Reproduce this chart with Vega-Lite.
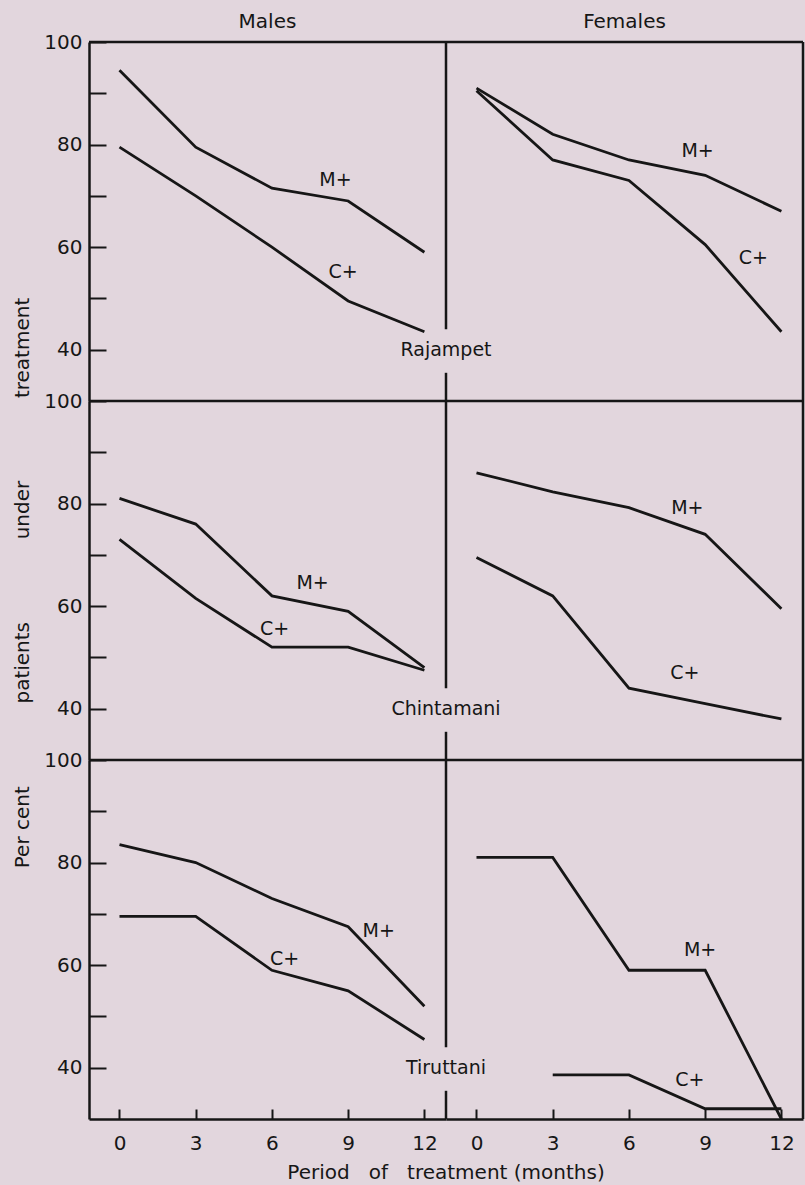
{
  "$schema": "https://vega.github.io/schema/vega-lite/v6.json",
  "background": "#e2d6dd",
  "padding": {"left": 12, "top": 12, "right": 0, "bottom": 4},
  "bounds": "flush",
  "data": {
    "values": [
      {"kind": "line", "site": "Rajampet", "sex": "Males", "series": "M+", "month": 0, "value": 94.5},
      {"kind": "line", "site": "Rajampet", "sex": "Males", "series": "M+", "month": 3, "value": 79.5},
      {"kind": "line", "site": "Rajampet", "sex": "Males", "series": "M+", "month": 6, "value": 71.5},
      {"kind": "line", "site": "Rajampet", "sex": "Males", "series": "M+", "month": 9, "value": 69},
      {"kind": "line", "site": "Rajampet", "sex": "Males", "series": "M+", "month": 12, "value": 59},
      {"kind": "line", "site": "Rajampet", "sex": "Males", "series": "C+", "month": 0, "value": 79.5},
      {"kind": "line", "site": "Rajampet", "sex": "Males", "series": "C+", "month": 3, "value": 70},
      {"kind": "line", "site": "Rajampet", "sex": "Males", "series": "C+", "month": 6, "value": 60},
      {"kind": "line", "site": "Rajampet", "sex": "Males", "series": "C+", "month": 9, "value": 49.5},
      {"kind": "line", "site": "Rajampet", "sex": "Males", "series": "C+", "month": 12, "value": 43.5},
      {"kind": "line", "site": "Rajampet", "sex": "Females", "series": "M+", "month": 0, "value": 91},
      {"kind": "line", "site": "Rajampet", "sex": "Females", "series": "M+", "month": 3, "value": 82},
      {"kind": "line", "site": "Rajampet", "sex": "Females", "series": "M+", "month": 6, "value": 77},
      {"kind": "line", "site": "Rajampet", "sex": "Females", "series": "M+", "month": 9, "value": 74},
      {"kind": "line", "site": "Rajampet", "sex": "Females", "series": "M+", "month": 12, "value": 67},
      {"kind": "line", "site": "Rajampet", "sex": "Females", "series": "C+", "month": 0, "value": 90.5},
      {"kind": "line", "site": "Rajampet", "sex": "Females", "series": "C+", "month": 3, "value": 77},
      {"kind": "line", "site": "Rajampet", "sex": "Females", "series": "C+", "month": 6, "value": 73},
      {"kind": "line", "site": "Rajampet", "sex": "Females", "series": "C+", "month": 9, "value": 60.5},
      {"kind": "line", "site": "Rajampet", "sex": "Females", "series": "C+", "month": 12, "value": 43.5},

      {"kind": "line", "site": "Chintamani", "sex": "Males", "series": "M+", "month": 0, "value": 81},
      {"kind": "line", "site": "Chintamani", "sex": "Males", "series": "M+", "month": 3, "value": 76},
      {"kind": "line", "site": "Chintamani", "sex": "Males", "series": "M+", "month": 6, "value": 62},
      {"kind": "line", "site": "Chintamani", "sex": "Males", "series": "M+", "month": 9, "value": 59},
      {"kind": "line", "site": "Chintamani", "sex": "Males", "series": "M+", "month": 12, "value": 48},
      {"kind": "line", "site": "Chintamani", "sex": "Males", "series": "C+", "month": 0, "value": 73},
      {"kind": "line", "site": "Chintamani", "sex": "Males", "series": "C+", "month": 3, "value": 61.5},
      {"kind": "line", "site": "Chintamani", "sex": "Males", "series": "C+", "month": 6, "value": 52},
      {"kind": "line", "site": "Chintamani", "sex": "Males", "series": "C+", "month": 9, "value": 52},
      {"kind": "line", "site": "Chintamani", "sex": "Males", "series": "C+", "month": 12, "value": 47.5},
      {"kind": "line", "site": "Chintamani", "sex": "Females", "series": "M+", "month": 0, "value": 86},
      {"kind": "line", "site": "Chintamani", "sex": "Females", "series": "M+", "month": 3, "value": 82.3},
      {"kind": "line", "site": "Chintamani", "sex": "Females", "series": "M+", "month": 6, "value": 79.2},
      {"kind": "line", "site": "Chintamani", "sex": "Females", "series": "M+", "month": 9, "value": 74},
      {"kind": "line", "site": "Chintamani", "sex": "Females", "series": "M+", "month": 12, "value": 59.5},
      {"kind": "line", "site": "Chintamani", "sex": "Females", "series": "C+", "month": 0, "value": 69.5},
      {"kind": "line", "site": "Chintamani", "sex": "Females", "series": "C+", "month": 3, "value": 62},
      {"kind": "line", "site": "Chintamani", "sex": "Females", "series": "C+", "month": 6, "value": 44},
      {"kind": "line", "site": "Chintamani", "sex": "Females", "series": "C+", "month": 9, "value": 41},
      {"kind": "line", "site": "Chintamani", "sex": "Females", "series": "C+", "month": 12, "value": 38},

      {"kind": "line", "site": "Tiruttani", "sex": "Males", "series": "M+", "month": 0, "value": 83.5},
      {"kind": "line", "site": "Tiruttani", "sex": "Males", "series": "M+", "month": 3, "value": 80},
      {"kind": "line", "site": "Tiruttani", "sex": "Males", "series": "M+", "month": 6, "value": 73},
      {"kind": "line", "site": "Tiruttani", "sex": "Males", "series": "M+", "month": 9, "value": 67.5},
      {"kind": "line", "site": "Tiruttani", "sex": "Males", "series": "M+", "month": 12, "value": 52},
      {"kind": "line", "site": "Tiruttani", "sex": "Males", "series": "C+", "month": 0, "value": 69.5},
      {"kind": "line", "site": "Tiruttani", "sex": "Males", "series": "C+", "month": 3, "value": 69.5},
      {"kind": "line", "site": "Tiruttani", "sex": "Males", "series": "C+", "month": 6, "value": 59},
      {"kind": "line", "site": "Tiruttani", "sex": "Males", "series": "C+", "month": 9, "value": 55},
      {"kind": "line", "site": "Tiruttani", "sex": "Males", "series": "C+", "month": 12, "value": 45.5},
      {"kind": "line", "site": "Tiruttani", "sex": "Females", "series": "M+", "month": 0, "value": 81},
      {"kind": "line", "site": "Tiruttani", "sex": "Females", "series": "M+", "month": 3, "value": 81},
      {"kind": "line", "site": "Tiruttani", "sex": "Females", "series": "M+", "month": 6, "value": 59},
      {"kind": "line", "site": "Tiruttani", "sex": "Females", "series": "M+", "month": 9, "value": 59},
      {"kind": "line", "site": "Tiruttani", "sex": "Females", "series": "M+", "month": 12, "value": 30},
      {"kind": "line", "site": "Tiruttani", "sex": "Females", "series": "C+", "month": 3, "value": 38.6},
      {"kind": "line", "site": "Tiruttani", "sex": "Females", "series": "C+", "month": 6, "value": 38.6},
      {"kind": "line", "site": "Tiruttani", "sex": "Females", "series": "C+", "month": 9, "value": 32},
      {"kind": "line", "site": "Tiruttani", "sex": "Females", "series": "C+", "month": 12, "value": 32},

      {"kind": "label", "site": "Rajampet", "sex": "Males", "series": "M+", "month": 8.5, "value": 73},
      {"kind": "label", "site": "Rajampet", "sex": "Males", "series": "C+", "month": 8.8, "value": 55.2},
      {"kind": "label", "site": "Rajampet", "sex": "Females", "series": "M+", "month": 8.7, "value": 78.8},
      {"kind": "label", "site": "Rajampet", "sex": "Females", "series": "C+", "month": 10.9, "value": 57.9},
      {"kind": "label", "site": "Chintamani", "sex": "Males", "series": "M+", "month": 7.6, "value": 64.5},
      {"kind": "label", "site": "Chintamani", "sex": "Males", "series": "C+", "month": 6.1, "value": 55.5},
      {"kind": "label", "site": "Chintamani", "sex": "Females", "series": "M+", "month": 8.3, "value": 79.2},
      {"kind": "label", "site": "Chintamani", "sex": "Females", "series": "C+", "month": 8.2, "value": 46.9},
      {"kind": "label", "site": "Tiruttani", "sex": "Males", "series": "M+", "month": 10.2, "value": 66.6},
      {"kind": "label", "site": "Tiruttani", "sex": "Males", "series": "C+", "month": 6.5, "value": 61.2},
      {"kind": "label", "site": "Tiruttani", "sex": "Females", "series": "M+", "month": 8.8, "value": 63},
      {"kind": "label", "site": "Tiruttani", "sex": "Females", "series": "C+", "month": 8.4, "value": 37.6}
    ]
  },
  "facet": {
    "row": {
      "field": "site",
      "type": "nominal",
      "sort": ["Rajampet", "Chintamani", "Tiruttani"],
      "header": {
        "title": "Per cent\u00a0\u00a0\u00a0\u00a0\u00a0\u00a0\u00a0\u00a0\u00a0\u00a0\u00a0\u00a0\u00a0patients\u00a0\u00a0\u00a0\u00a0\u00a0\u00a0\u00a0\u00a0\u00a0\u00a0\u00a0\u00a0\u00a0under\u00a0\u00a0\u00a0\u00a0\u00a0\u00a0\u00a0\u00a0\u00a0\u00a0\u00a0\u00a0\u00a0treatment",
        "titleOrient": "left",
        "labels": false,
        "titleFont": "DejaVu Sans",
        "titleFontSize": 20,
        "titleFontWeight": "normal",
        "titleColor": "#161616",
        "titlePadding": 0
      }
    },
    "column": {
      "field": "sex",
      "type": "nominal",
      "sort": ["Males", "Females"],
      "header": {
        "title": "Period\u00a0\u00a0\u00a0of\u00a0\u00a0\u00a0treatment (months)",
        "titleOrient": "bottom",
        "labelOrient": "top",
        "labelFont": "DejaVu Sans",
        "labelFontSize": 20,
        "labelColor": "#161616",
        "labelPadding": 10,
        "titleFont": "DejaVu Sans",
        "titleFontSize": 20,
        "titleFontWeight": "normal",
        "titleColor": "#161616",
        "titlePadding": 0
      }
    }
  },
  "spacing": {"row": 0, "column": 0},
  "spec": {
    "width": 357,
    "height": 359,
    "layer": [
      {
        "transform": [{"filter": "datum.kind === 'line'"}],
        "mark": {"type": "line", "color": "#161616", "strokeWidth": 2.8},
        "encoding": {
          "x": {
            "field": "month",
            "type": "quantitative",
            "scale": {"domain": [-1.2, 12.85], "nice": false, "zero": false},
            "axis": {"values": [0, 3, 6, 9, 12], "title": null}
          },
          "y": {
            "field": "value",
            "type": "quantitative",
            "scale": {"domain": [30, 100], "nice": false, "zero": false},
            "axis": {
              "values": [40, 50, 60, 70, 80, 90, 100],
              "labelExpr": "datum.value % 20 === 0 ? datum.label : ''",
              "title": null
            }
          },
          "detail": {"field": "series"}
        }
      },
      {
        "transform": [{"filter": "datum.kind === 'label'"}],
        "mark": {"type": "text", "font": "DejaVu Sans", "fontSize": 19, "color": "#161616", "align": "center", "baseline": "middle"},
        "encoding": {
          "x": {"field": "month", "type": "quantitative"},
          "y": {"field": "value", "type": "quantitative"},
          "text": {"field": "series"}
        }
      },
      {
        "transform": [{"filter": "datum.kind === 'line' && datum.month === 0 && datum.series === 'M+' && datum.sex === 'Males'"}],
        "mark": {"type": "text", "font": "DejaVu Sans", "fontSize": 19, "color": "#161616", "align": "center", "baseline": "middle"},
        "encoding": {"x": {"datum": 12.85}, "y": {"datum": 40}, "text": {"field": "site"}}
      },
      {
        "transform": [{"filter": "datum.kind === 'line' && datum.month === 0 && datum.series === 'M+'"}],
        "mark": {"type": "rule", "color": "#161616", "strokeWidth": 2.5},
        "encoding": {"y": {"datum": 100}}
      },
      {
        "transform": [{"filter": "datum.kind === 'line' && datum.month === 0 && datum.series === 'M+' && datum.sex === 'Males'"}],
        "mark": {"type": "rule", "color": "#161616", "strokeWidth": 2.5},
        "encoding": {"x": {"datum": 12.85}, "y": {"datum": 100}, "y2": {"datum": 44}}
      },
      {
        "transform": [{"filter": "datum.kind === 'line' && datum.month === 0 && datum.series === 'M+' && datum.sex === 'Males'"}],
        "mark": {"type": "rule", "color": "#161616", "strokeWidth": 2.5},
        "encoding": {"x": {"datum": 12.85}, "y": {"datum": 35.5}, "y2": {"datum": 30}}
      },
      {
        "transform": [{"filter": "datum.kind === 'line' && datum.month === 0 && datum.series === 'M+' && datum.sex === 'Females'"}],
        "mark": {"type": "rule", "color": "#161616", "strokeWidth": 2.5},
        "encoding": {"x": {"datum": 12.85}}
      }
    ]
  },
  "config": {
    "view": {"stroke": null},
    "axis": {
      "grid": false,
      "domainColor": "#161616",
      "domainWidth": 2.5,
      "tickColor": "#161616",
      "tickWidth": 2,
      "labelFont": "DejaVu Sans",
      "labelFontSize": 20,
      "labelColor": "#161616"
    },
    "axisX": {"tickSize": -10, "labelPadding": 24},
    "axisY": {"tickSize": -17, "labelPadding": 24}
  }
}
